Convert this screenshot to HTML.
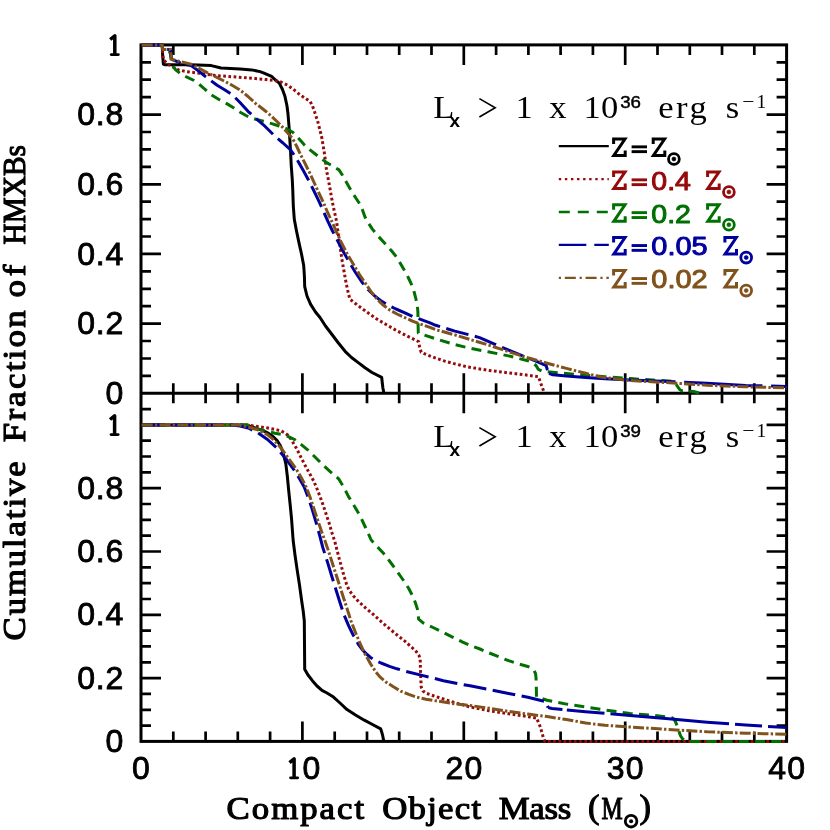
<!DOCTYPE html>
<html><head><meta charset="utf-8"><title>Cumulative Fraction of HMXBs</title>
<style>html,body{margin:0;padding:0;background:#fff;}svg{display:block;will-change:transform;font-family:"Liberation Sans",sans-serif;}
.tk{font-family:"Liberation Sans",sans-serif;font-size:32px;fill:#000;stroke:#000;stroke-width:0.85px;}
.ax{font-family:"Liberation Serif",serif;font-size:32.5px;fill:#000;stroke:#000;stroke-width:1.15px;stroke-linejoin:round;}
.ti{font-family:"Liberation Serif",serif;font-size:32px;fill:#000;}
.lgz{font-family:"Liberation Serif",serif;font-weight:bold;font-size:27px;}
.lgn{font-family:"Liberation Sans",sans-serif;font-size:26.5px;}
</style></head><body>
<svg width="830" height="830" viewBox="0 0 830 830">
<rect x="0" y="0" width="830" height="830" fill="#ffffff"/>
<g stroke="#000" stroke-width="3.0" fill="none" stroke-linecap="butt">
<rect x="141.0" y="44.9" width="645.6" height="696.5"/>
<line x1="141.0" y1="393.3" x2="786.6" y2="393.3"/>
<path stroke-width="2.7" d="M173.3 44.9v10.0M173.3 383.3v20.0M173.3 741.4v-10.0M205.6 44.9v10.0M205.6 383.3v20.0M205.6 741.4v-10.0M237.8 44.9v10.0M237.8 383.3v20.0M237.8 741.4v-10.0M270.1 44.9v10.0M270.1 383.3v20.0M270.1 741.4v-10.0M302.4 44.9v20.0M302.4 373.3v40.0M302.4 741.4v-20.0M334.7 44.9v10.0M334.7 383.3v20.0M334.7 741.4v-10.0M367.0 44.9v10.0M367.0 383.3v20.0M367.0 741.4v-10.0M399.2 44.9v10.0M399.2 383.3v20.0M399.2 741.4v-10.0M431.5 44.9v10.0M431.5 383.3v20.0M431.5 741.4v-10.0M463.8 44.9v20.0M463.8 373.3v40.0M463.8 741.4v-20.0M496.1 44.9v10.0M496.1 383.3v20.0M496.1 741.4v-10.0M528.4 44.9v10.0M528.4 383.3v20.0M528.4 741.4v-10.0M560.6 44.9v10.0M560.6 383.3v20.0M560.6 741.4v-10.0M592.9 44.9v10.0M592.9 383.3v20.0M592.9 741.4v-10.0M625.2 44.9v20.0M625.2 373.3v40.0M625.2 741.4v-20.0M657.5 44.9v10.0M657.5 383.3v20.0M657.5 741.4v-10.0M689.8 44.9v10.0M689.8 383.3v20.0M689.8 741.4v-10.0M722.0 44.9v10.0M722.0 383.3v20.0M722.0 741.4v-10.0M754.3 44.9v10.0M754.3 383.3v20.0M754.3 741.4v-10.0M141.0 375.9h10.0M786.6 375.9h-10.0M141.0 358.5h10.0M786.6 358.5h-10.0M141.0 341.0h10.0M786.6 341.0h-10.0M141.0 323.6h20.0M786.6 323.6h-20.0M141.0 306.2h10.0M786.6 306.2h-10.0M141.0 288.8h10.0M786.6 288.8h-10.0M141.0 271.4h10.0M786.6 271.4h-10.0M141.0 253.9h20.0M786.6 253.9h-20.0M141.0 236.5h10.0M786.6 236.5h-10.0M141.0 219.1h10.0M786.6 219.1h-10.0M141.0 201.7h10.0M786.6 201.7h-10.0M141.0 184.3h20.0M786.6 184.3h-20.0M141.0 166.8h10.0M786.6 166.8h-10.0M141.0 149.4h10.0M786.6 149.4h-10.0M141.0 132.0h10.0M786.6 132.0h-10.0M141.0 114.6h20.0M786.6 114.6h-20.0M141.0 97.2h10.0M786.6 97.2h-10.0M141.0 79.7h10.0M786.6 79.7h-10.0M141.0 62.3h10.0M786.6 62.3h-10.0M141.0 725.6h10.0M786.6 725.6h-10.0M141.0 709.8h10.0M786.6 709.8h-10.0M141.0 693.9h10.0M786.6 693.9h-10.0M141.0 678.1h20.0M786.6 678.1h-20.0M141.0 662.3h10.0M786.6 662.3h-10.0M141.0 646.4h10.0M786.6 646.4h-10.0M141.0 630.6h10.0M786.6 630.6h-10.0M141.0 614.8h20.0M786.6 614.8h-20.0M141.0 599.0h10.0M786.6 599.0h-10.0M141.0 583.1h10.0M786.6 583.1h-10.0M141.0 567.3h10.0M786.6 567.3h-10.0M141.0 551.5h20.0M786.6 551.5h-20.0M141.0 535.7h10.0M786.6 535.7h-10.0M141.0 519.8h10.0M786.6 519.8h-10.0M141.0 504.0h10.0M786.6 504.0h-10.0M141.0 488.2h20.0M786.6 488.2h-20.0M141.0 472.4h10.0M786.6 472.4h-10.0M141.0 456.5h10.0M786.6 456.5h-10.0M141.0 440.7h10.0M786.6 440.7h-10.0M141.0 424.9h20.0M786.6 424.9h-20.0M141.0 409.1h10.0M786.6 409.1h-10.0"/>
</g>
<g fill="none" stroke-width="3.0" stroke-linejoin="round" stroke-linecap="butt">
<path d="M141.7 45.0 L162.2 45.0 L162.6 55.0 L163.4 64.2 L164.5 64.7 L191.0 64.7 L211.3 65.6 L221.0 68.0 L240.2 68.9 L251.8 69.9 L260.0 71.6 L263.4 72.8 L271.6 76.4 L274.9 79.5 L279.3 83.1 L282.5 89.5 L285.0 96.6 L287.0 106.0 L288.0 114.0 L288.9 125.0 L289.7 137.1 L290.6 152.0 L291.2 165.0 L292.3 180.0 L292.8 191.1 L293.3 206.0 L294.3 219.3 L296.5 231.0 L298.9 242.4 L301.5 254.0 L303.7 265.5 L304.4 276.0 L304.7 286.7 L307.0 296.0 L310.5 304.1 L315.5 312.0 L320.0 317.5 L325.5 326.0 L331.6 334.0 L338.0 342.5 L345.1 351.3 L351.5 357.5 L358.6 362.9 L365.0 367.8 L372.0 372.5 L381.7 377.3 L382.3 383.0 L382.9 388.0 L384.0 393.3" stroke="#000000"/>
<path d="M141.7 45.0 L162.2 45.0 L162.6 53.0 L163.3 59.3 L167.0 63.5 L172.8 67.0 L178.6 69.9 L186.0 71.5 L195.9 72.8 L217.1 75.7 L236.4 77.0 L255.7 78.6 L266.0 79.5 L274.9 80.5 L281.0 82.0 L287.5 85.1 L293.0 89.0 L298.6 93.7 L304.5 97.8 L310.1 101.4 L312.3 105.5 L314.0 110.1 L317.8 121.7 L321.7 137.1 L324.6 154.5 L326.5 169.9 L329.4 185.3 L332.5 202.8 L336.5 221.2 L339.4 242.4 L342.3 261.7 L346.1 282.9 L348.5 294.0 L350.0 299.3 L358.0 305.5 L366.4 311.8 L376.0 318.5 L385.7 324.3 L396.0 330.3 L404.9 334.9 L418.6 341.7 L419.6 347.0 L421.2 352.3 L428.0 355.2 L435.7 358.1 L445.0 361.2 L454.9 363.9 L467.0 366.8 L480.0 369.0 L489.3 370.4 L508.6 372.9 L527.8 375.2 L538.4 376.7 L539.8 380.5 L541.3 384.8 L544.4 393.3" stroke="#950a0a" stroke-dasharray="2.7 2.5"/>
<path d="M141.7 45.0 L162.2 45.0 L162.8 51.6 L170.3 52.0 L170.8 58.0 L171.8 63.1 L173.5 66.8 L175.7 69.9 L180.5 73.7 L187.0 77.2 L194.0 80.5 L199.0 84.0 L203.6 88.2 L211.3 94.9 L219.0 99.5 L226.7 103.6 L233.5 107.8 L240.2 112.3 L246.0 115.5 L251.8 118.1 L257.5 119.8 L263.4 121.3 L271.6 123.6 L279.0 126.0 L286.5 128.7 L292.8 132.3 L298.5 138.3 L304.3 144.8 L310.0 149.8 L315.9 154.5 L321.5 158.8 L327.5 163.1 L333.0 166.3 L339.0 169.9 L342.0 174.5 L344.8 179.5 L348.5 186.0 L352.5 193.0 L356.5 199.0 L360.2 204.6 L362.5 210.0 L364.8 216.5 L368.0 222.5 L372.2 228.9 L378.5 236.5 L385.7 244.3 L391.5 250.8 L397.2 257.8 L401.0 264.5 L404.9 271.3 L408.5 278.0 L411.7 284.8 L414.0 291.5 L415.8 298.3 L417.3 305.0 L417.9 312.0 L418.1 325.3 L418.3 333.0 L435.7 338.8 L454.9 344.6 L470.0 348.2 L489.3 352.0 L508.6 355.9 L527.8 360.7 L533.0 363.0 L536.0 365.5 L538.4 369.4 L542.0 371.0 L547.1 371.7 L566.4 373.6 L585.7 375.2 L604.9 376.7 L630.0 378.6 L649.3 379.8 L674.3 381.3 L676.3 384.5 L678.2 387.5 L680.0 389.8 L682.0 390.9 L693.6 391.5 L700.0 393.3" stroke="#007000" stroke-dasharray="10 6.3"/>
<path d="M141.7 45.0 L162.2 45.0 L162.8 49.6 L170.6 49.6 L171.0 54.5 L171.6 59.3 L178.0 61.8 L184.3 64.1 L191.1 65.6 L198.0 70.5 L205.5 76.6 L217.1 85.3 L225.0 90.0 L232.5 94.9 L240.0 102.5 L248.0 111.3 L255.5 118.0 L263.4 124.8 L274.9 136.1 L283.0 143.0 L290.6 149.8 L294.5 155.5 L298.6 162.2 L303.3 170.5 L308.2 179.5 L313.0 189.0 L317.8 198.8 L322.5 209.0 L327.8 221.2 L332.5 231.0 L337.5 240.5 L343.0 251.0 L349.0 261.7 L355.5 272.5 L362.5 282.9 L368.0 289.5 L374.1 295.4 L380.5 300.5 L387.6 305.1 L396.0 309.0 L404.9 312.8 L412.5 316.3 L430.0 322.8 L435.7 325.3 L454.9 331.1 L470.0 335.0 L479.6 337.6 L495.1 344.3 L512.4 351.7 L527.8 357.8 L539.4 362.7 L546.1 365.5 L547.3 369.5 L549.0 373.3" stroke="#00009e" stroke-dasharray="23 6.5"/>
<path d="M549.0 373.3 L552.9 374.8 L566.4 376.1 L585.7 377.5 L604.9 378.7 L630.0 380.0 L676.3 381.9 L707.1 383.2 L745.7 385.4 L786.6 386.4" stroke="#00009e" stroke-dasharray="127 8.6 78.4 8.7 40"/>
<path d="M141.7 45.0 L162.2 45.0 L162.8 49.6 L170.6 49.6 L171.0 54.5 L171.4 59.3 L181.0 61.8 L192.0 64.4 L199.5 68.5 L207.5 72.8 L216.0 77.0 L224.8 81.4 L232.5 85.5 L240.2 90.1 L248.0 96.5 L255.7 103.6 L260.0 106.8 L266.0 111.5 L271.6 116.3 L277.5 122.0 L283.1 127.8 L288.0 133.3 L292.8 139.0 L296.8 146.5 L300.5 154.5 L305.3 164.0 L310.1 173.7 L315.0 184.5 L319.8 194.9 L323.3 202.3 L326.8 210.5 L331.7 221.2 L336.5 232.0 L341.3 242.4 L347.0 253.5 L352.9 263.6 L359.5 274.5 L366.4 284.8 L372.0 293.0 L378.0 300.2 L383.5 305.3 L389.5 309.9 L397.0 314.0 L404.9 317.6 L412.5 321.2 L418.4 323.4 L430.0 327.4 L435.7 329.7 L454.9 334.9 L470.0 339.5 L489.3 345.3 L508.6 351.7 L527.8 357.8 L547.1 363.2 L566.4 368.4 L585.7 373.3 L601.1 377.1 L615.0 378.8 L630.0 380.5 L676.3 383.2 L707.1 385.2 L745.7 386.8 L786.6 387.9" stroke="#80521c" stroke-dasharray="11 2.2 2.4 2.2"/>
<path d="M141.7 424.9 L245.0 424.9 L251.0 426.5 L257.8 428.9 L263.0 430.6 L267.5 432.8 L272.5 436.0 L277.1 440.5 L280.3 445.5 L282.9 452.0 L285.8 463.6 L287.3 476.0 L288.7 490.6 L290.2 505.0 L291.6 519.5 L293.1 540.0 L295.0 555.0 L297.0 568.9 L299.5 585.0 L301.8 601.7 L303.2 611.0 L304.3 621.0 L304.5 645.0 L304.7 669.2 L308.0 675.0 L312.4 680.7 L317.0 686.0 L322.0 690.4 L327.0 693.0 L333.5 697.1 L340.0 703.0 L347.0 709.6 L355.5 715.0 L364.3 720.2 L372.5 724.5 L380.7 728.9 L381.7 732.0 L382.7 735.7 L383.8 741.4" stroke="#000000"/>
<path d="M141.7 424.9 L248.0 424.9 L257.8 426.6 L268.0 428.0 L277.1 429.9 L281.0 431.0 L284.8 432.8 L288.0 435.3 L290.6 438.6 L296.4 448.2 L304.1 463.6 L313.7 481.0 L317.5 490.0 L321.4 500.2 L325.3 511.5 L329.2 523.4 L332.0 533.0 L334.8 541.5 L339.4 559.3 L344.2 576.6 L346.5 584.0 L349.0 590.1 L353.5 596.0 L358.7 601.7 L366.0 608.3 L374.1 615.2 L381.5 621.8 L389.5 628.7 L397.1 635.0 L404.9 641.2 L412.5 648.0 L416.5 651.8 L419.0 655.5 L420.2 659.5 L420.6 674.0 L421.2 687.0 L423.0 691.0 L426.0 693.2 L434.0 696.0 L443.4 699.0 L452.0 701.8 L462.7 704.8 L470.0 707.0 L480.0 709.0 L489.3 710.8 L508.6 713.7 L527.8 716.6 L536.5 718.0 L538.5 722.5 L540.4 727.2 L541.9 732.5 L543.3 737.5 L545.0 741.4 L786.6 741.4" stroke="#950a0a" stroke-dasharray="2.7 2.5"/>
<path d="M141.7 424.9 L247.0 424.9 L252.0 427.0 L257.8 428.9 L267.5 431.6 L275.0 433.2 L282.9 434.7 L289.0 436.8 L294.5 439.5 L301.0 444.3 L308.0 450.1 L315.5 457.5 L323.4 465.5 L331.0 472.3 L338.8 479.0 L343.8 487.3 L348.4 496.4 L354.0 505.5 L360.0 515.7 L365.5 527.5 L371.2 540.0 L377.5 547.0 L383.7 553.5 L389.5 561.0 L395.3 568.9 L400.0 575.5 L404.9 582.4 L409.0 589.0 L412.6 595.9 L415.3 602.5 L417.5 609.4 L418.2 614.0 L418.6 619.2 L423.1 622.9 L433.0 627.5 L443.4 632.5 L453.0 637.3 L462.7 642.2 L470.0 645.3 L480.0 649.0 L489.3 653.0 L508.6 660.7 L518.0 663.8 L527.8 666.5 L531.5 667.8 L533.8 669.8 L535.5 673.5 L536.0 677.5 L536.3 686.0 L536.5 696.8 L547.1 700.2 L566.4 704.1 L585.7 707.0 L604.9 709.9 L630.0 713.5 L649.3 715.0 L668.6 717.0 L672.0 717.8 L674.3 719.5 L675.8 722.5 L677.2 726.0 L678.8 731.0 L680.5 735.7 L682.5 738.8 L685.0 740.5 L689.0 741.4 L786.6 741.4" stroke="#007000" stroke-dasharray="10 6.3"/>
<path d="M141.7 424.9 L232.0 424.9 L240.0 426.0 L248.2 428.0 L257.8 432.8 L267.5 439.5 L277.1 448.2 L286.7 459.8 L296.4 473.3 L304.1 486.7 L308.0 497.0 L311.8 508.0 L315.7 521.0 L319.5 534.9 L322.8 547.5 L327.8 563.1 L331.7 576.0 L335.5 588.2 L339.8 602.0 L344.2 615.2 L348.7 625.8 L352.9 634.5 L358.2 644.0 L362.5 649.9 L366.5 654.0 L370.5 657.5 L374.1 659.8 L381.0 663.0 L389.5 666.3 L397.0 668.8 L404.8 671.1 L424.1 675.9 L443.4 680.7 L462.7 684.6 L470.0 685.8 L489.3 689.6 L508.6 693.5 L527.8 697.3 L546.1 701.8 L546.9 704.5 L548.1 707.6" stroke="#00009e" stroke-dasharray="23 6.5"/>
<path d="M548.1 707.6 L552.0 708.5 L566.4 709.9 L585.7 711.8 L604.9 713.3 L630.0 715.5 L668.6 718.7 L707.1 722.2 L745.7 725.1 L786.6 727.6" stroke="#00009e" stroke-dasharray="14.5 4.4 37.8 6 119 6 27.1 6 40"/>
<path d="M141.7 424.9 L238.0 424.9 L248.2 427.0 L257.8 429.9 L267.5 434.7 L272.5 438.8 L277.1 443.4 L282.0 449.3 L286.7 455.9 L296.4 469.4 L301.5 478.0 L306.0 486.7 L310.0 497.0 L313.7 508.0 L317.5 519.5 L321.4 531.1 L324.9 540.5 L329.3 553.5 L333.6 567.0 L338.0 580.5 L342.3 594.0 L346.7 607.5 L351.0 621.0 L355.5 632.5 L360.5 644.5 L365.5 655.0 L370.5 663.8 L375.5 671.5 L379.9 676.9 L385.5 681.7 L393.4 686.8 L401.0 691.3 L408.8 694.4 L416.4 697.1 L426.0 699.2 L435.7 700.8 L454.9 703.9 L470.0 705.5 L489.3 708.3 L508.6 711.4 L527.8 714.1 L547.1 716.6 L566.4 719.5 L585.7 723.0 L604.9 725.3 L630.0 727.0 L668.6 729.5 L707.1 731.8 L745.7 733.2 L786.6 734.3" stroke="#80521c" stroke-dasharray="11 2.2 2.4 2.2"/>
</g>
<g class="tk" text-anchor="end">
<path d="M110.2 39.5 L114.8 35.8 L114.8 55.1" fill="none" stroke="#000" stroke-width="3.5" stroke-linejoin="round" stroke-linecap="butt"/><path d="M111.2 54.6 H118.4" fill="none" stroke="#000" stroke-width="2.7" stroke-linecap="round"/>
<text x="124.1" y="125.2" letter-spacing="0.8">0.8</text>
<text x="124.1" y="194.9" letter-spacing="0.8">0.6</text>
<text x="124.1" y="264.5" letter-spacing="0.8">0.4</text>
<text x="124.1" y="334.2" letter-spacing="0.8">0.2</text>
<text x="124.1" y="403.9" letter-spacing="0.8">0</text>
<path d="M110.0 419.5 L114.6 415.8 L114.6 435.1" fill="none" stroke="#000" stroke-width="3.5" stroke-linejoin="round" stroke-linecap="butt"/><path d="M111.0 434.6 H118.2" fill="none" stroke="#000" stroke-width="2.7" stroke-linecap="round"/>
<text x="124.1" y="498.8" letter-spacing="0.8">0.8</text>
<text x="124.1" y="562.1" letter-spacing="0.8">0.6</text>
<text x="124.1" y="625.4" letter-spacing="0.8">0.4</text>
<text x="124.1" y="688.7" letter-spacing="0.8">0.2</text>
<text x="124.1" y="752.0" letter-spacing="0.8">0</text>
</g>
<g class="tk" text-anchor="middle">
<text x="141.6" y="779.1" letter-spacing="1.2">0</text>
<text x="464.4" y="779.1" letter-spacing="1.2">20</text>
<text x="625.8" y="779.1" letter-spacing="1.2">30</text>
<text x="787.2" y="779.1" letter-spacing="1.2">40</text>
</g>
<path d="M289.5 762.6 L294.1 758.9 L294.1 778.2" fill="none" stroke="#000" stroke-width="3.5" stroke-linejoin="round" stroke-linecap="butt"/><path d="M290.5 777.8 H297.7" fill="none" stroke="#000" stroke-width="2.7" stroke-linecap="round"/>
<text class="tk" x="302.4" y="779.1">0</text>
<g class="ax">
<text transform="translate(226.6 818.8) scale(1.070 1)" x="0" y="0" textLength="128.5" lengthAdjust="spacing">Compact</text>
<text transform="translate(382.3 818.8) scale(1.070 1)" x="0" y="0" textLength="92.3" lengthAdjust="spacing">Object</text>
<text transform="translate(498.7 818.8) scale(1.070 1)" x="0" y="0" textLength="67.9" lengthAdjust="spacing">Mass</text>
<text x="588.0" y="817.9" style="font-size:34.5px">(</text>
<text x="601.6" y="818.8" textLength="21.2" lengthAdjust="spacingAndGlyphs">M</text>
<text x="639.4" y="817.9" style="font-size:34.5px">)</text>
</g>
<circle cx="631.1" cy="821.2" r="5.8" fill="none" stroke="#000" stroke-width="2.8"/><circle cx="631.1" cy="821.2" r="2.0" fill="#000"/>
<g class="ax" transform="translate(25.3 640.4) rotate(-90)">
<text transform="translate(0.0 0.0) scale(1.070 1)" x="0" y="0" textLength="167.3" lengthAdjust="spacing">Cumulative</text>
<text transform="translate(198.2 0.0) scale(1.070 1)" x="0" y="0" textLength="123.2" lengthAdjust="spacing">Fraction</text>
<text transform="translate(342.9 0.0) scale(1.070 1)" x="0" y="0" textLength="30.7" lengthAdjust="spacing">of</text>
<text x="395.9" y="0" textLength="99.4" lengthAdjust="spacingAndGlyphs">HMXBs</text>
</g>
<g class="ti"><text transform="translate(433.3 117.5) scale(1.080 1)">L</text><text x="449.5" y="127.0" style="font-family:'Liberation Sans',sans-serif;font-weight:bold;font-size:19px">x</text><path d="M479.4 98.6 L495.2 107.8 L479.4 117.0" fill="none" stroke="#000" stroke-width="1.6" stroke-linejoin="miter"/><text transform="translate(515.6 117.5) scale(1.080 1)">1</text><text transform="translate(549.3 117.5) scale(1.080 1)">x</text><text transform="translate(583.4 117.5) scale(1.080 1)" letter-spacing="0.3">10</text><text x="620.2" y="107.5" textLength="20.8" lengthAdjust="spacingAndGlyphs" style="font-family:'Liberation Sans',sans-serif;font-size:17.3px;stroke:#000;stroke-width:0.45px">36</text><text transform="translate(658.3 117.5) scale(1.080 1)" letter-spacing="2.3">erg</text><text transform="translate(725.8 117.5) scale(1.080 1)">s</text><text x="742.2" y="108.1" textLength="12.2" lengthAdjust="spacingAndGlyphs" style="font-size:19px">−</text><text x="756.6" y="107.9" style="font-size:19.5px">1</text></g>
<g class="ti"><text transform="translate(433.3 446.5) scale(1.080 1)">L</text><text x="449.5" y="456.0" style="font-family:'Liberation Sans',sans-serif;font-weight:bold;font-size:19px">x</text><path d="M479.4 427.6 L495.2 436.8 L479.4 446.0" fill="none" stroke="#000" stroke-width="1.6" stroke-linejoin="miter"/><text transform="translate(515.6 446.5) scale(1.080 1)">1</text><text transform="translate(549.3 446.5) scale(1.080 1)">x</text><text transform="translate(583.4 446.5) scale(1.080 1)" letter-spacing="0.3">10</text><text x="620.2" y="436.5" textLength="20.8" lengthAdjust="spacingAndGlyphs" style="font-family:'Liberation Sans',sans-serif;font-size:17.3px;stroke:#000;stroke-width:0.45px">39</text><text transform="translate(658.3 446.5) scale(1.080 1)" letter-spacing="2.3">erg</text><text transform="translate(725.8 446.5) scale(1.080 1)">s</text><text x="742.2" y="437.1" textLength="12.2" lengthAdjust="spacingAndGlyphs" style="font-size:19px">−</text><text x="756.6" y="436.9" style="font-size:19.5px">1</text></g>
<line x1="558.8" y1="146.2" x2="608.8" y2="146.2" stroke="#000000" stroke-width="2.3"/>
<g fill="#000000" stroke="#000000" stroke-width="0.6" stroke-linejoin="round">
<path transform="translate(612.3 137.5)" d="M1.3 6.4V1.5H12.7L1.5 18H12.9V13" fill="none" stroke="#000000" stroke-width="3" stroke-linejoin="miter" stroke-linecap="butt"/>
<rect x="631.6" y="145.4" width="15.4" height="2.9" stroke="none"/><rect x="631.6" y="150.2" width="15.4" height="2.9" stroke="none"/>
<path transform="translate(651.9 137.5)" d="M1.3 6.4V1.5H12.7L1.5 18H12.9V13" fill="none" stroke="#000000" stroke-width="3" stroke-linejoin="miter" stroke-linecap="butt"/>
<circle cx="673.9" cy="159.0" r="5.4" fill="none" stroke="#000000" stroke-width="2.8"/><circle cx="673.9" cy="159.0" r="2.0" fill="#000000"/>
</g>
<line x1="558.8" y1="179.2" x2="608.8" y2="179.2" stroke="#950a0a" stroke-width="2.3" stroke-dasharray="2.4 3.68"/>
<g fill="#950a0a" stroke="#950a0a" stroke-width="0.6" stroke-linejoin="round">
<path transform="translate(612.3 170.5)" d="M1.3 6.4V1.5H12.7L1.5 18H12.9V13" fill="none" stroke="#950a0a" stroke-width="3" stroke-linejoin="miter" stroke-linecap="butt"/>
<rect x="631.6" y="178.4" width="15.4" height="2.9" stroke="none"/><rect x="631.6" y="183.2" width="15.4" height="2.9" stroke="none"/>
<text class="lgn" stroke-width="1.0" x="651.3" y="189.7" textLength="39.6" lengthAdjust="spacingAndGlyphs">0.4</text>
<path transform="translate(706.3 170.5)" d="M1.3 6.4V1.5H12.7L1.5 18H12.9V13" fill="none" stroke="#950a0a" stroke-width="3" stroke-linejoin="miter" stroke-linecap="butt"/>
<circle cx="728.9" cy="192.0" r="5.4" fill="none" stroke="#950a0a" stroke-width="2.8"/><circle cx="728.9" cy="192.0" r="2.0" fill="#950a0a"/>
</g>
<line x1="558.8" y1="212.0" x2="608.8" y2="212.0" stroke="#007000" stroke-width="2.3" stroke-dasharray="11 8"/>
<g fill="#007000" stroke="#007000" stroke-width="0.6" stroke-linejoin="round">
<path transform="translate(612.3 203.3)" d="M1.3 6.4V1.5H12.7L1.5 18H12.9V13" fill="none" stroke="#007000" stroke-width="3" stroke-linejoin="miter" stroke-linecap="butt"/>
<rect x="631.6" y="211.2" width="15.4" height="2.9" stroke="none"/><rect x="631.6" y="216.1" width="15.4" height="2.9" stroke="none"/>
<text class="lgn" stroke-width="1.0" x="651.3" y="222.5" textLength="39.6" lengthAdjust="spacingAndGlyphs">0.2</text>
<path transform="translate(706.3 203.3)" d="M1.3 6.4V1.5H12.7L1.5 18H12.9V13" fill="none" stroke="#007000" stroke-width="3" stroke-linejoin="miter" stroke-linecap="butt"/>
<circle cx="728.9" cy="224.8" r="5.4" fill="none" stroke="#007000" stroke-width="2.8"/><circle cx="728.9" cy="224.8" r="2.0" fill="#007000"/>
</g>
<line x1="558.8" y1="244.8" x2="608.8" y2="244.8" stroke="#00009e" stroke-width="2.3" stroke-dasharray="27.5 8"/>
<g fill="#00009e" stroke="#00009e" stroke-width="0.6" stroke-linejoin="round">
<path transform="translate(612.3 236.1)" d="M1.3 6.4V1.5H12.7L1.5 18H12.9V13" fill="none" stroke="#00009e" stroke-width="3" stroke-linejoin="miter" stroke-linecap="butt"/>
<rect x="631.6" y="244.1" width="15.4" height="2.9" stroke="none"/><rect x="631.6" y="248.9" width="15.4" height="2.9" stroke="none"/>
<text class="lgn" stroke-width="1.0" x="651.3" y="255.3" textLength="56.3" lengthAdjust="spacingAndGlyphs">0.05</text>
<path transform="translate(723.6 236.1)" d="M1.3 6.4V1.5H12.7L1.5 18H12.9V13" fill="none" stroke="#00009e" stroke-width="3" stroke-linejoin="miter" stroke-linecap="butt"/>
<circle cx="746.2" cy="257.6" r="5.4" fill="none" stroke="#00009e" stroke-width="2.8"/><circle cx="746.2" cy="257.6" r="2.0" fill="#00009e"/>
</g>
<line x1="558.8" y1="277.8" x2="608.8" y2="277.8" stroke="#80521c" stroke-width="2.3" stroke-dasharray="2.2 3.8 11 3.8"/>
<g fill="#80521c" stroke="#80521c" stroke-width="0.6" stroke-linejoin="round">
<path transform="translate(612.3 269.1)" d="M1.3 6.4V1.5H12.7L1.5 18H12.9V13" fill="none" stroke="#80521c" stroke-width="3" stroke-linejoin="miter" stroke-linecap="butt"/>
<rect x="631.6" y="277.1" width="15.4" height="2.9" stroke="none"/><rect x="631.6" y="281.9" width="15.4" height="2.9" stroke="none"/>
<text class="lgn" stroke-width="1.0" x="651.3" y="288.3" textLength="56.3" lengthAdjust="spacingAndGlyphs">0.02</text>
<path transform="translate(723.6 269.1)" d="M1.3 6.4V1.5H12.7L1.5 18H12.9V13" fill="none" stroke="#80521c" stroke-width="3" stroke-linejoin="miter" stroke-linecap="butt"/>
<circle cx="746.2" cy="290.6" r="5.4" fill="none" stroke="#80521c" stroke-width="2.8"/><circle cx="746.2" cy="290.6" r="2.0" fill="#80521c"/>
</g>
</svg></body></html>
